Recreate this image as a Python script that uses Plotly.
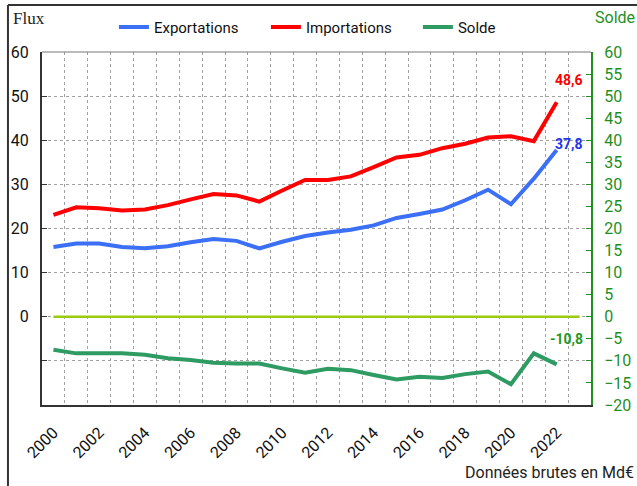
import plotly.graph_objects as go

# Années et séries (Md€)
years = list(range(2000, 2023))
axis_years = list(range(2000, 2024))
exportations = [15.8, 16.6, 16.6, 15.8, 15.5, 16.0, 16.9, 17.6, 17.2, 15.5, 17.0, 18.3,
                19.1, 19.7, 20.7, 22.4, 23.3, 24.3, 26.4, 28.8, 25.5, 31.3, 37.8]
importations = [23.1, 24.8, 24.6, 24.1, 24.3, 25.3, 26.6, 27.8, 27.5, 26.1, 28.6, 31.0,
                31.0, 31.8, 33.9, 36.1, 36.7, 38.2, 39.2, 40.6, 40.9, 39.8, 48.6]
solde = [-7.5, -8.3, -8.3, -8.3, -8.6, -9.4, -9.8, -10.4, -10.6, -10.6, -11.7, -12.7,
         -11.8, -12.1, -13.2, -14.2, -13.6, -13.9, -13.0, -12.4, -15.3, -8.3, -10.8]
zero_line = [0] * len(axis_years)

left_ticks = list(range(-20, 70, 10))
left_labels = ["" if v < 0 else str(v) for v in left_ticks]
right_ticks = list(range(-20, 65, 5))
x_ticks = list(range(2000, 2023, 2))

BLUE = "#3b6ff5"
RED = "#ff0000"
GREEN = "#2e9b63"
AXIS_GREEN = "#1f8f1f"
LIME = "#99cc11"
GRID = "#a0a0a0"
FONT = "Roboto"

fig = go.Figure()
fig.add_trace(go.Scatter(x=axis_years, y=zero_line, mode="lines",
                         line=dict(color=LIME, width=2.5), showlegend=False,
                         hoverinfo="skip"))
fig.add_trace(go.Scatter(x=years, y=exportations, mode="lines", name="Exportations",
                         line=dict(color=BLUE, width=4)))
fig.add_trace(go.Scatter(x=years, y=importations, mode="lines", name="Importations",
                         line=dict(color=RED, width=4)))
fig.add_trace(go.Scatter(x=years, y=solde, mode="lines", name="Solde", yaxis="y2",
                         line=dict(color=GREEN, width=4)))

# Valeurs de la dernière année
last = len(years) - 1
for val, col, xs, ys in [(importations[last], RED, 12, 22),
                         (exportations[last], "#2233ee", 12, 6)]:
    fig.add_annotation(x=years[last], y=val, text=f"<b>{val:.1f}</b>".replace(".", ","),
                       showarrow=False, xshift=xs, yshift=ys,
                       font=dict(family=FONT, size=14, color=col))
fig.add_annotation(x=years[last], y=solde[last], yref="y2",
                   text=f"<b>{solde[last]:.1f}</b>".replace(".", ","),
                   showarrow=False, xshift=10, yshift=25,
                   font=dict(family=FONT, size=14, color="#1f9a1f"))

fig.add_annotation(xref="paper", yref="paper", x=-0.056, y=1.096, xanchor="left",
                   yanchor="middle", text="Flux", showarrow=False,
                   font=dict(family="Liberation Serif", size=17, color="#222"))
fig.add_annotation(xref="paper", yref="paper", x=1.044, y=1.098, xanchor="center",
                   yanchor="middle", text="Solde", showarrow=False,
                   font=dict(family=FONT, size=16, color=AXIS_GREEN))
fig.add_annotation(xref="paper", yref="paper", x=1.082, y=-0.19, xanchor="right",
                   yanchor="middle", text="Données brutes en Md€", showarrow=False,
                   font=dict(family=FONT, size=16, color="#222"))

# Cadre extérieur (haut et gauche) et bord supérieur du tracé
fig.add_shape(type="line", xref="paper", yref="paper", x0=-0.062, x1=1.2,
              y0=1.133, y1=1.133, line=dict(color="#333", width=2))
fig.add_shape(type="line", xref="paper", yref="paper", x0=-0.062, x1=-0.062,
              y0=-0.4, y1=1.133, line=dict(color="#333", width=2))
fig.add_shape(type="line", xref="paper", yref="paper", x0=0, x1=1,
              y0=1, y1=1, line=dict(color="#777", width=1))

fig.update_layout(
    width=637, height=486,
    margin=dict(l=42, r=46, t=52, b=81, autoexpand=False),
    paper_bgcolor="white", plot_bgcolor="white",
    font=dict(family=FONT, size=16, color="#111"),
    legend=dict(orientation="h", x=0.131, y=1.07, xanchor="left", yanchor="middle",
                font=dict(family=FONT, size=15, color="#111"),
                bgcolor="rgba(0,0,0,0)", itemwidth=30,
                entrywidth=107, entrywidthmode="pixels"),
    xaxis=dict(range=[1999.5, 2023.5], tickvals=x_ticks, ticktext=[str(v) for v in x_ticks],
               tickangle=-45, showgrid=False, zeroline=False,
               showline=True, linecolor="#333", linewidth=2, ticklabelstandoff=10,
               tickfont=dict(family=FONT, size=16, color="#111"),
               minor=dict(tick0=1999.5, dtick=1, showgrid=True, gridcolor=GRID,
                          griddash="dot", gridwidth=1)),
    yaxis=dict(range=[-20, 60], tickvals=left_ticks, ticktext=left_labels,
               ticks="inside", ticklen=5, tickcolor="#333", ticklabelstandoff=8,
               showline=True, linecolor="#333", linewidth=2,
               showgrid=True, gridcolor=GRID, griddash="dot", gridwidth=1,
               zeroline=False, tickfont=dict(family=FONT, size=16, color="#111")),
    yaxis2=dict(range=[-20, 60], tickvals=right_ticks, overlaying="y", side="right",
                ticks="inside", ticklen=5, tickcolor=AXIS_GREEN, ticklabelstandoff=8,
                showline=True, linecolor=AXIS_GREEN, linewidth=2,
                showgrid=False, zeroline=False,
                tickfont=dict(family=FONT, size=16, color=AXIS_GREEN)),
)

fig.write_html("out.html")
